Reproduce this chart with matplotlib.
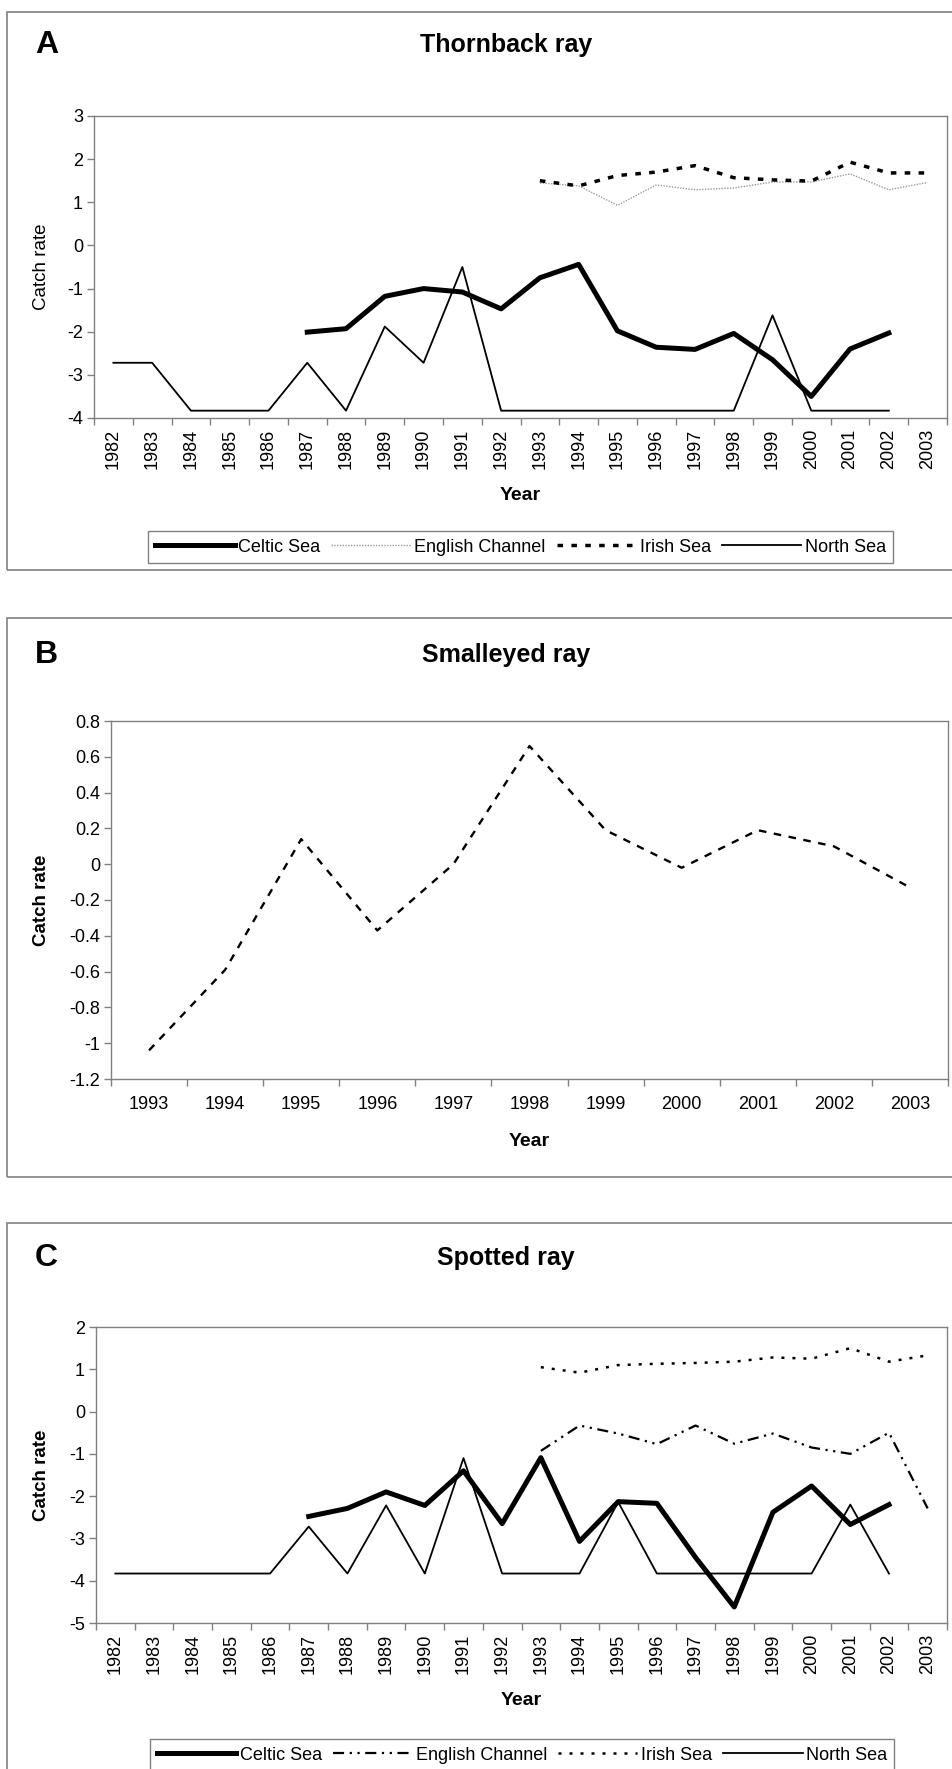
import numpy as np
import matplotlib
matplotlib.use("Agg")
import matplotlib.pyplot as plt
from matplotlib.lines import Line2D
from matplotlib.patches import Rectangle
from matplotlib.ticker import FixedLocator, FuncFormatter

plt.rcParams['font.family'] = ['Liberation Sans', 'DejaVu Sans']
plt.rcParams['axes.unicode_minus'] = False

nan = np.nan

# ---- data -------------------------------------------------------------
years_long = [str(y) for y in range(1982, 2004)]
years_short = [str(y) for y in range(1993, 2004)]

# A: Thornback ray
thorn_celtic = [nan, nan, nan, nan, nan, -2.01, -1.93, -1.18, -1.00, -1.08, -1.47,
                -0.75, -0.44, -1.98, -2.36, -2.41, -2.04, -2.65, -3.50, -2.40, -2.03, nan]
thorn_channel = [nan] * 11 + [1.45, 1.38, 0.93, 1.40, 1.29, 1.33, 1.47, 1.47, 1.66, 1.29, 1.46]
thorn_irish = [nan] * 11 + [1.50, 1.38, 1.62, 1.70, 1.85, 1.57, 1.52, 1.49, 1.93, 1.68, 1.68]
thorn_north = [-2.72, -2.72, -3.83, -3.83, -3.83, -2.72, -3.83, -1.88, -2.72, -0.50, -3.83,
               -3.83, -3.83, -3.83, -3.83, -3.83, -3.83, -1.62, -3.83, -3.83, -3.83, nan]

# B: Smalleyed ray (Irish Sea)
small_irish = [-1.04, -0.59, 0.14, -0.37, 0.00, 0.66, 0.19, -0.02, 0.19, 0.10, -0.13]

# C: Spotted ray
spot_celtic = [nan, nan, nan, nan, nan, -2.48, -2.29, -1.90, -2.22, -1.40, -2.65,
               -1.09, -3.07, -2.13, -2.17, -3.45, -4.62, -2.38, -1.76, -2.67, -2.20, nan]
spot_channel = [nan] * 11 + [-0.93, -0.33, -0.52, -0.77, -0.33, -0.76, -0.52, -0.85, -1.00, -0.50, -2.29]
spot_irish = [nan] * 11 + [1.05, 0.92, 1.10, 1.13, 1.15, 1.18, 1.28, 1.25, 1.50, 1.18, 1.33]
spot_north = [-3.83, -3.83, -3.83, -3.83, -3.83, -2.72, -3.83, -2.22, -3.83, -1.10, -3.83,
              -3.83, -3.83, -2.14, -3.83, -3.83, -3.83, -3.83, -3.83, -2.20, -3.83, nan]

series_names = ["Celtic Sea", "English Channel", "Irish Sea", "North Sea"]

# ---- layout helpers (pixel coordinates) -------------------------------
W, H = 953, 1769
GRAY = '#808080'


def rect(l, t, r, b):
    return [l / W, 1 - b / H, (r - l) / W, (b - t) / H]


def fx(x):
    return x / W


def fy(y):
    return 1 - y / H


fig = plt.figure(figsize=(W / 100, H / 100), dpi=100)

# panel borders
for top, bot in [(12, 570), (618, 1177), (1223, 1800)]:
    fig.patches.append(Rectangle((fx(7), fy(bot)), fx(1000), (bot - top) / H,
                                 transform=fig.transFigure, fill=False,
                                 edgecolor=GRAY, lw=1.2))

styles_A = {
    "Celtic Sea": dict(color='black', lw=3.6, ls='-'),
    "English Channel": dict(color='#9a9a9a', lw=1.0, ls=(0, (1, 1))),
    "Irish Sea": dict(color='black', lw=2.5, ls=(0, (1.6, 2.4))),
    "North Sea": dict(color='black', lw=1.3, ls='-'),
}
styles_C = {
    "Celtic Sea": dict(color='black', lw=3.6, ls='-'),
    "English Channel": dict(color='black', lw=1.6, ls=(0, (5, 2.5, 1, 2.5, 1, 2.5))),
    "Irish Sea": dict(color='black', lw=1.8, ls=(0, (1.2, 3.2))),
    "North Sea": dict(color='black', lw=1.3, ls='-'),
}


def fmt(v, pos):
    return f"{round(v, 2) + 0.0:g}"


def style_axes(ax, n, rotate):
    ax.set_xlim(-0.5, n - 0.5)
    for s in ax.spines.values():
        s.set_color(GRAY)
        s.set_linewidth(1.0)
    ax.set_xticks(range(n))
    ax.xaxis.set_minor_locator(FixedLocator(np.arange(-0.5, n, 1.0)))
    ax.tick_params(axis='x', which='major', length=0, labelsize=13,
                   pad=8 if rotate else 12, labelrotation=90 if rotate else 0)
    ax.tick_params(axis='x', which='minor', length=5, width=1, color=GRAY, direction='out')
    ax.tick_params(axis='y', length=5, width=1, color=GRAY, direction='out',
                   labelsize=13, pad=3)
    ax.yaxis.set_major_formatter(FuncFormatter(fmt))


def panel_text(letter, title, y):
    fig.text(fx(35), fy(y), letter, fontsize=23, weight='bold', ha='left', va='center')
    fig.text(fx(506), fy(y), title, fontsize=18, weight='bold', ha='center', va='center')


def add_legend(styles, cx, cy):
    handles = [Line2D([0], [0], **styles[n]) for n in series_names]
    leg = fig.legend(handles, series_names, loc='center', bbox_to_anchor=(fx(cx), fy(cy)),
                     ncol=4, frameon=True, fancybox=False, edgecolor=GRAY, fontsize=13,
                     handlelength=4.4, handletextpad=0.2, columnspacing=0.6,
                     borderpad=0.4, framealpha=1)
    leg.get_frame().set_linewidth(1.0)


# ---- A: Thornback ray --------------------------------------------------
axA = fig.add_axes(rect(94, 116, 947, 418))
xA = np.arange(len(years_long))
for name, vals in zip(series_names, [thorn_celtic, thorn_channel, thorn_irish, thorn_north]):
    axA.plot(xA, vals, **styles_A[name])
axA.set_ylim(-4, 3)
axA.set_yticks(range(-4, 4))
style_axes(axA, len(years_long), True)
axA.set_xticklabels(years_long)
panel_text("A", "Thornback ray", 45)
fig.text(fx(42), fy(267), "Catch rate", rotation=90, fontsize=13.5, ha='center', va='center')
fig.text(fx(520), fy(495), "Year", fontsize=14, weight='bold', ha='center', va='center')
add_legend(styles_A, 520.5, 547)

# ---- B: Smalleyed ray --------------------------------------------------
axB = fig.add_axes(rect(111, 721, 948, 1079))
xB = np.arange(len(years_short))
axB.plot(xB, small_irish, color='black', lw=1.7, ls=(0, (3.2, 3.2)))
axB.set_ylim(-1.2, 0.8)
axB.set_yticks(np.round(np.arange(-1.2, 0.81, 0.2), 1))
style_axes(axB, len(years_short), False)
axB.set_xticklabels(years_short)
panel_text("B", "Smalleyed ray", 655)
fig.text(fx(42), fy(900), "Catch rate", rotation=90, fontsize=13.5, weight='bold',
         ha='center', va='center')
fig.text(fx(529), fy(1141), "Year", fontsize=14, weight='bold', ha='center', va='center')

# ---- C: Spotted ray ----------------------------------------------------
axC = fig.add_axes(rect(96, 1327, 947, 1623))
for name, vals in zip(series_names, [spot_celtic, spot_channel, spot_irish, spot_north]):
    axC.plot(xA, vals, **styles_C[name])
axC.set_ylim(-5, 2)
axC.set_yticks(range(-5, 3))
style_axes(axC, len(years_long), True)
axC.set_xticklabels(years_long)
panel_text("C", "Spotted ray", 1258)
fig.text(fx(42), fy(1475), "Catch rate", rotation=90, fontsize=13.5, weight='bold',
         ha='center', va='center')
fig.text(fx(521), fy(1700), "Year", fontsize=14, weight='bold', ha='center', va='center')
add_legend(styles_C, 522, 1755)

fig.savefig("out.png", dpi=100)
